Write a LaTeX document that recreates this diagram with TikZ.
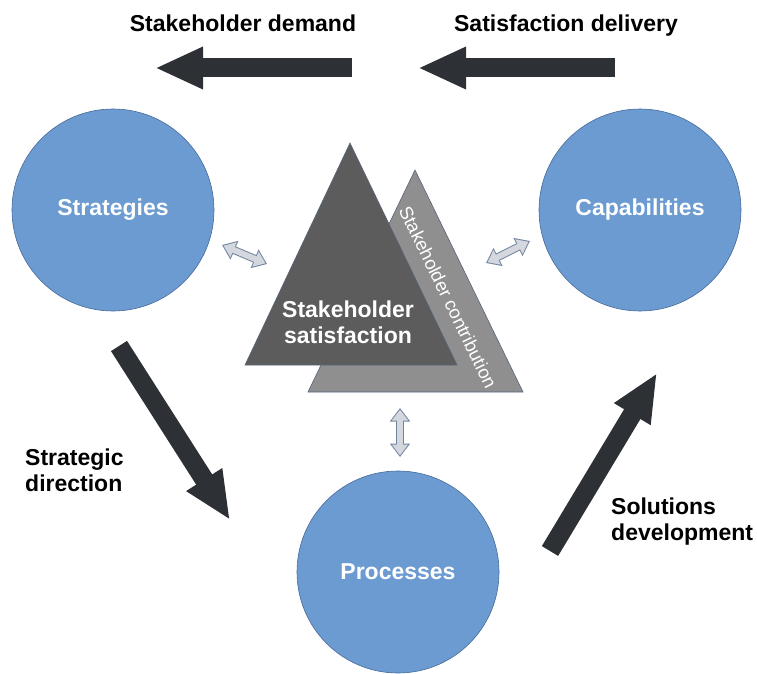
\documentclass[tikz,border=0pt]{standalone}
\usepackage{fontspec}
\setmainfont{Liberation Sans}
\usepackage{tikz}
\usetikzlibrary{arrows.meta}

\definecolor{circblue}{HTML}{6C9BD2}
\definecolor{circedge}{HTML}{46699A}
\definecolor{arrowdark}{HTML}{2D3136}
\definecolor{tridark}{HTML}{5C5C5C}
\definecolor{trilight}{HTML}{8F8F8F}
\definecolor{triedge}{HTML}{55657A}
\definecolor{dblfill}{HTML}{D4D8DE}
\definecolor{dbledge}{HTML}{7386A0}

\begin{document}
\begin{tikzpicture}[x=1pt,y=-1pt, every node/.style={font=\bfseries\fontsize{23}{26}\selectfont}]
		\tikzstyle{ball}=[circle, minimum size=202pt, inner sep=0pt, fill=circblue, draw=circedge, line width=0.6pt, text=white]
		\tikzstyle{sidetext}=[align=left, inner sep=0pt, anchor=west]
		\tikzstyle{bigarrow}=[draw=arrowdark, line width=19pt, -{Triangle[length=48pt,width=39pt]}]
		\tikzstyle{dblarrow}=[draw=dblfill, line width=6pt,
			{Triangle[length=10.8pt,width=15.6pt]}-{Triangle[length=10.8pt,width=15.6pt]},
			shorten <=1.7pt, shorten >=1.7pt,
			preaction={draw=dbledge, line width=8pt, shorten <=0pt, shorten >=0pt,
				{Triangle[length=13.5pt,width=19.5pt]}-{Triangle[length=13.5pt,width=19.5pt]}}]
		\tikzstyle{tri}=[draw=triedge, line width=0.6pt]
		
		\useasboundingbox (0,0) rectangle (757,674);
		
		% circles
		\node[ball] (strat) at (113,210) {Strategies};
		\node[ball] (capab) at (640,210) {Capabilities};
		\node[ball] (proc)  at (398,572) {Processes};
		
		% triangles
		\draw[tri, fill=trilight] (415,170) -- (523,392) -- (308,392) -- cycle;
		\node[font=\fontsize{18.5}{21}\selectfont, text=white, rotate=-64, inner sep=0pt] (contrib) at (448,297) {Stakeholder contribution};
		\draw[tri, fill=tridark] (350,143) -- (457,365) -- (245,365) -- cycle;
		\node[text=white, align=center, inner sep=0pt] (satis) at (348,322) {Stakeholder\\satisfaction};
		
		% texts
		\node[anchor=base] (demand)   at (243,32) {Stakeholder demand};
		\node[anchor=base] (delivery) at (566,32) {Satisfaction delivery};
		\node[sidetext] (direction) at (25,470)  {Strategic\\direction};
		\node[sidetext] (develop)   at (611,522) {Solutions\\development};
		
		% arrow ends
		\coordinate (dem1) at (352,68);  \coordinate (dem2) at (155,68);
		\coordinate (del1) at (615,68);  \coordinate (del2) at (418,68);
		\coordinate (dir1) at (119,346); \coordinate (dir2) at (230,520);
		\coordinate (dev1) at (550,551); \coordinate (dev2) at (657,373);
		\coordinate (sl1) at (222,245);  \coordinate (sl2) at (267,264);
		\coordinate (sr1) at (486,263);  \coordinate (sr2) at (530,241);
		\coordinate (sb1) at (400,408);  \coordinate (sb2) at (400,457);
		
		\draw[bigarrow] (dem1) -- (dem2);
		\draw[bigarrow] (del1) -- (del2);
		\draw[bigarrow] (dir1) -- (dir2);
		\draw[bigarrow] (dev1) -- (dev2);
		
		\draw[dblarrow] (sl1) -- (sl2);
		\draw[dblarrow] (sr1) -- (sr2);
		\draw[dblarrow] (sb1) -- (sb2);
\end{tikzpicture}
\end{document}
